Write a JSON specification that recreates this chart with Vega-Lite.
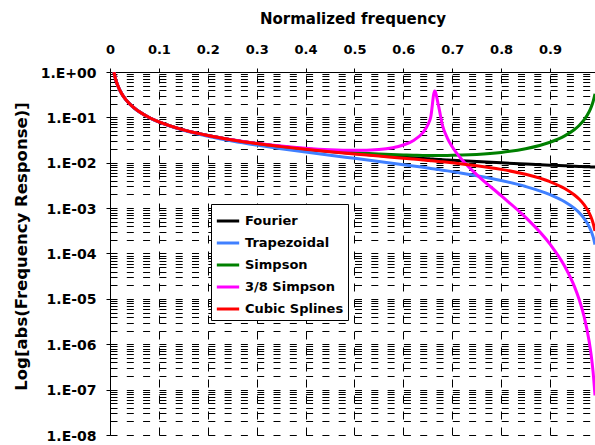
{
  "$schema": "https://vega.github.io/schema/vega-lite/v6.json",
  "width": 485,
  "height": 363,
  "autosize": {"type": "none"},
  "padding": {"left": 110, "top": 72, "right": 0, "bottom": 10},
  "background": "white",
  "config": {"view": {"stroke": null}, "font": "DejaVu Sans"},
  "data": {
    "values": [
      {"f": 0.008, "Fourier": 0.9947, "Trapezoidal": 0.9947, "Simpson": 0.9947, "3/8 Simpson": 0.9947, "Cubic Splines": 0.9947},
      {"f": 0.012, "Fourier": 0.6631, "Trapezoidal": 0.663, "Simpson": 0.6631, "3/8 Simpson": 0.6631, "Cubic Splines": 0.6631},
      {"f": 0.016, "Fourier": 0.4974, "Trapezoidal": 0.4973, "Simpson": 0.4974, "3/8 Simpson": 0.4974, "Cubic Splines": 0.4974},
      {"f": 0.024, "Fourier": 0.3316, "Trapezoidal": 0.3314, "Simpson": 0.3316, "3/8 Simpson": 0.3316, "Cubic Splines": 0.3316},
      {"f": 0.032, "Fourier": 0.2487, "Trapezoidal": 0.2485, "Simpson": 0.2487, "3/8 Simpson": 0.2487, "Cubic Splines": 0.2487},
      {"f": 0.04, "Fourier": 0.1989, "Trapezoidal": 0.1987, "Simpson": 0.1989, "3/8 Simpson": 0.1989, "Cubic Splines": 0.1989},
      {"f": 0.05, "Fourier": 0.1592, "Trapezoidal": 0.1588, "Simpson": 0.1592, "3/8 Simpson": 0.1592, "Cubic Splines": 0.1592},
      {"f": 0.06, "Fourier": 0.1326, "Trapezoidal": 0.1323, "Simpson": 0.1326, "3/8 Simpson": 0.1326, "Cubic Splines": 0.1326},
      {"f": 0.08, "Fourier": 0.09947, "Trapezoidal": 0.09895, "Simpson": 0.09947, "3/8 Simpson": 0.09948, "Cubic Splines": 0.09947},
      {"f": 0.1, "Fourier": 0.07958, "Trapezoidal": 0.07892, "Simpson": 0.07958, "3/8 Simpson": 0.07959, "Cubic Splines": 0.07958},
      {"f": 0.15, "Fourier": 0.05305, "Trapezoidal": 0.05207, "Simpson": 0.05307, "3/8 Simpson": 0.05309, "Cubic Splines": 0.05305},
      {"f": 0.2, "Fourier": 0.03979, "Trapezoidal": 0.03847, "Simpson": 0.03983, "3/8 Simpson": 0.03987, "Cubic Splines": 0.03978},
      {"f": 0.25, "Fourier": 0.03183, "Trapezoidal": 0.03018, "Simpson": 0.0319, "3/8 Simpson": 0.03201, "Cubic Splines": 0.03181},
      {"f": 0.3, "Fourier": 0.02653, "Trapezoidal": 0.02454, "Simpson": 0.02666, "3/8 Simpson": 0.02686, "Cubic Splines": 0.02649},
      {"f": 0.35, "Fourier": 0.02274, "Trapezoidal": 0.0204, "Simpson": 0.02295, "3/8 Simpson": 0.02332, "Cubic Splines": 0.02267},
      {"f": 0.4, "Fourier": 0.01989, "Trapezoidal": 0.0172, "Simpson": 0.02023, "3/8 Simpson": 0.02087, "Cubic Splines": 0.01978},
      {"f": 0.45, "Fourier": 0.01768, "Trapezoidal": 0.01463, "Simpson": 0.01819, "3/8 Simpson": 0.01934, "Cubic Splines": 0.0175},
      {"f": 0.5, "Fourier": 0.01592, "Trapezoidal": 0.0125, "Simpson": 0.01667, "3/8 Simpson": 0.01875, "Cubic Splines": 0.01562},
      {"f": 0.55, "Fourier": 0.01447, "Trapezoidal": 0.01068, "Simpson": 0.01556, "3/8 Simpson": 0.01966, "Cubic Splines": 0.01403},
      {"f": 0.6, "Fourier": 0.01326, "Trapezoidal": 0.009081, "Simpson": 0.01482, "3/8 Simpson": 0.02464, "Cubic Splines": 0.0126},
      {"f": 0.62, "Fourier": 0.01284, "Trapezoidal": 0.008497, "Simpson": 0.01463, "3/8 Simpson": 0.03053, "Cubic Splines": 0.01206},
      {"f": 0.64, "Fourier": 0.01243, "Trapezoidal": 0.007933, "Simpson": 0.0145, "3/8 Simpson": 0.04603, "Cubic Splines": 0.01152},
      {"f": 0.65, "Fourier": 0.01224, "Trapezoidal": 0.00766, "Simpson": 0.01446, "3/8 Simpson": 0.06818, "Cubic Splines": 0.01126},
      {"f": 0.656, "Fourier": 0.01213, "Trapezoidal": 0.007497, "Simpson": 0.01444, "3/8 Simpson": 0.1015, "Cubic Splines": 0.01111},
      {"f": 0.664, "Fourier": 0.01198, "Trapezoidal": 0.007287, "Simpson": 0.01443, "3/8 Simpson": 0.3812, "Cubic Splines": 0.0109},
      {"f": 0.672, "Fourier": 0.01184, "Trapezoidal": 0.007078, "Simpson": 0.01444, "3/8 Simpson": 0.1785, "Cubic Splines": 0.01068},
      {"f": 0.68, "Fourier": 0.0117, "Trapezoidal": 0.006872, "Simpson": 0.01445, "3/8 Simpson": 0.06678, "Cubic Splines": 0.01047},
      {"f": 0.69, "Fourier": 0.01153, "Trapezoidal": 0.006618, "Simpson": 0.01449, "3/8 Simpson": 0.03501, "Cubic Splines": 0.01021},
      {"f": 0.7, "Fourier": 0.01137, "Trapezoidal": 0.006369, "Simpson": 0.01455, "3/8 Simpson": 0.02243, "Cubic Splines": 0.009949},
      {"f": 0.72, "Fourier": 0.01105, "Trapezoidal": 0.005882, "Simpson": 0.01474, "3/8 Simpson": 0.01164, "Cubic Splines": 0.009416},
      {"f": 0.75, "Fourier": 0.01061, "Trapezoidal": 0.005178, "Simpson": 0.01524, "3/8 Simpson": 0.005492, "Cubic Splines": 0.008596},
      {"f": 0.8, "Fourier": 0.009947, "Trapezoidal": 0.004061, "Simpson": 0.01688, "3/8 Simpson": 0.001883, "Cubic Splines": 0.007146},
      {"f": 0.85, "Fourier": 0.009362, "Trapezoidal": 0.003001, "Simpson": 0.02036, "3/8 Simpson": 0.0006274, "Cubic Splines": 0.00556},
      {"f": 0.9, "Fourier": 0.008842, "Trapezoidal": 0.00198, "Simpson": 0.02829, "3/8 Simpson": 0.0001611, "Cubic Splines": 0.003821},
      {"f": 0.93, "Fourier": 0.008557, "Trapezoidal": 0.00138, "Simpson": 0.03912, "3/8 Simpson": 5.237e-5, "Cubic Splines": 0.002711},
      {"f": 0.95, "Fourier": 0.008377, "Trapezoidal": 0.0009838, "Simpson": 0.05393, "3/8 Simpson": 1.863e-5, "Cubic Splines": 0.00195},
      {"f": 0.96, "Fourier": 0.008289, "Trapezoidal": 0.0007864, "Simpson": 0.06701, "3/8 Simpson": 9.451e-6, "Cubic Splines": 0.001564},
      {"f": 0.97, "Fourier": 0.008204, "Trapezoidal": 0.0005895, "Simpson": 0.08894, "3/8 Simpson": 3.965e-6, "Cubic Splines": 0.001175},
      {"f": 0.98, "Fourier": 0.00812, "Trapezoidal": 0.0003928, "Simpson": 0.133, "3/8 Simpson": 1.168e-6, "Cubic Splines": 0.0007845},
      {"f": 0.984, "Fourier": 0.008087, "Trapezoidal": 0.0003142, "Simpson": 0.1661, "3/8 Simpson": 5.97e-7, "Cubic Splines": 0.0006278},
      {"f": 0.988, "Fourier": 0.008054, "Trapezoidal": 0.0002357, "Simpson": 0.2213, "3/8 Simpson": 2.516e-7, "Cubic Splines": 0.000471},
      {"f": 0.992, "Fourier": 0.008022, "Trapezoidal": 0.0001571, "Simpson": 0.3317, "3/8 Simpson": 7.447e-8, "Cubic Splines": 0.0003141}
    ]
  },
  "transform": [
    {"fold": ["Fourier", "Trapezoidal", "Simpson", "3/8 Simpson", "Cubic Splines"], "as": ["series", "v"]}
  ],
  "mark": {"type": "line", "strokeWidth": 3, "interpolate": "monotone", "clip": true},
  "encoding": {
    "x": {
      "field": "f",
      "type": "quantitative",
      "scale": {"domain": [0, 0.992], "nice": false, "zero": false},
      "axis": {
        "orient": "top",
        "values": [0, 0.1, 0.2, 0.3, 0.4, 0.5, 0.6, 0.7, 0.8, 0.9],
        "labelExpr": "datum.value == 0 ? '0' : format(datum.value, '.1f')",
        "grid": true,
        "gridColor": "black",
        "gridDash": [8, 8],
        "gridWidth": 1,
        "gridOpacity": 1,
        "domainColor": "black",
        "domainWidth": 1,
        "tickColor": "black",
        "tickSize": 4,
        "labelFont": "DejaVu Sans",
        "labelFontSize": 13,
        "labelFontWeight": "bold",
        "labelColor": "black",
        "labelPadding": 12,
        "labelFlush": false,
        "labelOverlap": false,
        "title": "Normalized frequency",
        "titleFont": "DejaVu Sans",
        "titleFontSize": 15,
        "titleFontWeight": "bold",
        "titleColor": "black",
        "titleY": -49,
        "titleBaseline": "alphabetic"
      }
    },
    "y": {
      "field": "v",
      "type": "quantitative",
      "scale": {"type": "log", "domain": [1e-8, 1], "nice": false},
      "axis": {
        "values": [1, 0.9, 0.8, 0.7, 0.6, 0.5, 0.4, 0.3, 0.2, 0.1, 0.09, 0.08, 0.07, 0.06, 0.05, 0.04, 0.03, 0.02, 0.01, 0.009, 0.008, 0.007, 0.006, 0.005, 0.004, 0.003, 0.002, 0.001, 0.0009, 0.0008, 0.0007, 0.0006, 0.0005, 0.0004, 0.0003, 0.0002, 0.0001, 9e-5, 8e-5, 7e-5, 6e-5, 5e-5, 4e-5, 3e-5, 2e-5, 1e-5, 9e-6, 8e-6, 7e-6, 6e-6, 5e-6, 4e-6, 3e-6, 2e-6, 1e-6, 9e-7, 8e-7, 7e-7, 6e-7, 5e-7, 4e-7, 3e-7, 2e-7, 1e-7, 9e-8, 8e-8, 7e-8, 6e-8, 5e-8, 4e-8, 3e-8, 2e-8, 1e-8],
        "labelExpr": "(abs(log(datum.value)/LN10 - round(log(datum.value)/LN10)) < 0.001) ? ('1.E' + (datum.value > 0.5 ? '+00' : '-0' + format(-round(log(datum.value)/LN10), 'd'))) : ''",
        "grid": true,
        "gridColor": "black",
        "gridDash": [7, 9.3],
        "gridWidth": 1,
        "gridOpacity": 1,
        "domainColor": "black",
        "domainWidth": 1,
        "tickColor": "black",
        "tickSize": 4,
        "tickOpacity": {"condition": {"test": "abs(log(datum.value)/LN10 - round(log(datum.value)/LN10)) < 0.001", "value": 1}, "value": 0},
        "labelFont": "DejaVu Sans",
        "labelFontSize": 14,
        "labelFontWeight": "bold",
        "labelColor": "black",
        "labelPadding": 10,
        "labelOffset": 1,
        "labelFlush": false,
        "labelOverlap": false,
        "title": "Log[abs(Frequency Response)]",
        "titleFont": "DejaVu Sans",
        "titleFontSize": 16.5,
        "titleFontWeight": "bold",
        "titleColor": "black",
        "titleX": -89,
        "titleY": 174,
        "titleAlign": "center",
        "titleBaseline": "middle"
      }
    },
    "color": {
      "field": "series",
      "type": "nominal",
      "scale": {
        "domain": ["Fourier", "Trapezoidal", "Simpson", "3/8 Simpson", "Cubic Splines"],
        "range": ["#000000", "#4080FF", "#008000", "#FF00FF", "#FF0000"]
      },
      "legend": {
        "orient": "none",
        "legendX": 101,
        "legendY": 132,
        "title": null,
        "strokeColor": "black",
        "fillColor": "white",
        "padding": 4,
        "symbolType": "stroke",
        "symbolSize": 500,
        "symbolStrokeWidth": 3,
        "labelFont": "DejaVu Sans",
        "labelFontSize": 13,
        "labelFontWeight": "bold",
        "labelColor": "black",
        "labelOffset": 4,
        "rowPadding": 2
      }
    }
  }
}
